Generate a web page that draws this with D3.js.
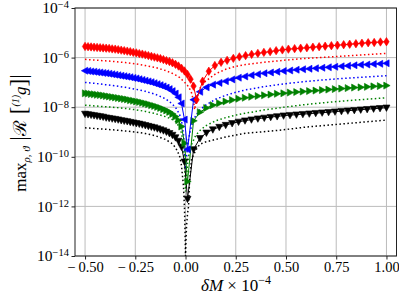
<!DOCTYPE html>
<html><head><meta charset="utf-8">
<script src="https://cdn.jsdelivr.net/npm/d3@7"></script>
<style>body{margin:0;background:#fff}svg{display:block}text{font-family:"Liberation Serif","DejaVu Serif",serif;fill:#000}</style>
</head><body><svg id="c" width="399" height="294"></svg>
<script>
// ---- data (log10 of max |R[(1)g]|) ----
const xTicks = [-0.5, -0.25, 0, 0.25, 0.5, 0.75, 1.0];
const yTickExps = [-14, -12, -10, -8, -6, -4];

const redX = [-0.5,-0.485,-0.47,-0.455,-0.44,-0.425,-0.41,-0.395,-0.38,-0.365,-0.35,-0.335,-0.32,-0.305,-0.29,-0.275,-0.26,-0.245,-0.23,-0.215,-0.2,-0.185,-0.17,-0.155,-0.14,-0.125,-0.11,-0.095,-0.08,-0.065,-0.05,-0.035,-0.02,-0.005,0.01,0.025,0.04,0.055,
 0.085,0.116,0.146,0.177,0.207,0.238,0.268,0.299,0.329,0.36,0.39,0.421,0.451,0.482,0.512,0.543,0.573,0.604,0.634,0.665,0.695,0.726,0.756,0.787,0.817,0.848,0.878,0.909,0.939,0.97,1.0];
const redLog = [-5.55,-5.56,-5.57,-5.58,-5.59,-5.60,-5.61,-5.62,-5.63,-5.65,-5.66,-5.68,-5.70,-5.72,-5.74,-5.76,-5.79,-5.81,-5.84,-5.86,-5.89,-5.92,-5.95,-5.98,-6.01,-6.04,-6.08,-6.12,-6.16,-6.21,-6.27,-6.34,-6.43,-6.54,-6.68,-6.87,-7.15,-7.70,
 -6.95,-6.55,-6.32,-6.19,-6.11,-6.03,-5.97,-5.92,-5.87,-5.83,-5.79,-5.76,-5.72,-5.69,-5.66,-5.64,-5.62,-5.60,-5.58,-5.56,-5.54,-5.52,-5.50,-5.48,-5.46,-5.44,-5.42,-5.40,-5.39,-5.37,-5.36];

const markX = [-0.5,-0.485,-0.47,-0.455,-0.44,-0.425,-0.41,-0.395,-0.38,-0.365,-0.35,-0.335,-0.32,-0.305,-0.29,-0.275,-0.26,-0.245,-0.23,-0.215,-0.2,-0.185,-0.17,-0.155,-0.14,-0.125,-0.11,-0.095,-0.08,-0.065,-0.05,-0.035,-0.02,-0.005,0.01,
 0.04,0.072,0.104,0.136,0.168,0.2,0.232,0.264,0.296,0.328,0.36,0.392,0.424,0.456,0.488,0.52,0.552,0.584,0.616,0.648,0.68,0.712,0.744,0.776,0.808,0.84,0.872,0.904,0.936,0.968,1.0];
const blueLog = [-6.53,-6.54,-6.56,-6.57,-6.59,-6.60,-6.62,-6.63,-6.65,-6.67,-6.69,-6.71,-6.73,-6.75,-6.77,-6.79,-6.82,-6.84,-6.87,-6.90,-6.93,-6.96,-6.99,-7.03,-7.07,-7.11,-7.16,-7.21,-7.27,-7.35,-7.45,-7.60,-7.85,-8.50,-9.70,
 -7.70,-7.38,-7.20,-7.09,-7.02,-6.95,-6.88,-6.81,-6.76,-6.71,-6.67,-6.63,-6.60,-6.57,-6.54,-6.52,-6.49,-6.47,-6.45,-6.43,-6.41,-6.39,-6.37,-6.35,-6.33,-6.31,-6.29,-6.28,-6.26,-6.25,-6.23];
const greenLog = [-7.44,-7.45,-7.47,-7.48,-7.50,-7.51,-7.53,-7.55,-7.57,-7.59,-7.61,-7.63,-7.65,-7.67,-7.69,-7.72,-7.74,-7.77,-7.79,-7.82,-7.85,-7.88,-7.92,-7.95,-7.99,-8.03,-8.08,-8.13,-8.19,-8.27,-8.38,-8.53,-8.78,-9.45,-11.0,
 -8.55,-8.20,-8.03,-7.92,-7.84,-7.77,-7.71,-7.66,-7.62,-7.58,-7.55,-7.52,-7.49,-7.46,-7.44,-7.41,-7.39,-7.37,-7.35,-7.33,-7.31,-7.29,-7.27,-7.25,-7.23,-7.21,-7.20,-7.18,-7.16,-7.15,-7.13];
const blackLog = [-8.27,-8.29,-8.31,-8.33,-8.35,-8.37,-8.39,-8.42,-8.44,-8.46,-8.48,-8.50,-8.53,-8.55,-8.57,-8.60,-8.62,-8.65,-8.67,-8.70,-8.73,-8.76,-8.79,-8.82,-8.86,-8.90,-8.94,-8.99,-9.05,-9.12,-9.22,-9.36,-9.60,-10.20,-11.70,
 -9.70,-9.25,-9.03,-8.90,-8.80,-8.72,-8.65,-8.59,-8.54,-8.50,-8.46,-8.43,-8.40,-8.37,-8.34,-8.32,-8.30,-8.28,-8.26,-8.24,-8.22,-8.20,-8.18,-8.16,-8.14,-8.12,-8.10,-8.08,-8.06,-8.04,-8.02];

const dotX = [-0.5,-0.45,-0.4,-0.35,-0.3,-0.25,-0.2,-0.15,-0.1,-0.07,-0.05,-0.03,-0.02,-0.01,-0.005,0,0.005,0.01,0.015,0.02,0.03,0.05,0.07,0.1,0.15,0.2,0.25,0.3,0.4,0.5,0.6,0.7,0.8,0.9,1.0];
const blueDot = [-7.00,-7.04,-7.09,-7.14,-7.20,-7.27,-7.36,-7.48,-7.66,-7.84,-8.00,-8.28,-8.55,-9.10,-9.70,-10.50,-10.00,-9.60,-9.30,-9.10,-8.75,-8.35,-8.12,-7.92,-7.68,-7.52,-7.40,-7.30,-7.16,-7.05,-6.96,-6.89,-6.83,-6.78,-6.73];
const greenDot = [-7.92,-7.95,-7.98,-8.01,-8.05,-8.10,-8.17,-8.26,-8.38,-8.48,-8.58,-8.80,-9.05,-9.60,-10.30,-11.40,-10.80,-10.30,-10.00,-9.80,-9.50,-9.15,-8.95,-8.75,-8.55,-8.42,-8.32,-8.24,-8.10,-7.99,-7.89,-7.81,-7.74,-7.68,-7.62];
const blackDot = [-8.83,-8.86,-8.89,-8.92,-8.96,-9.00,-9.06,-9.15,-9.30,-9.45,-9.62,-9.95,-10.35,-11.20,-12.10,-14.00,-12.80,-12.30,-12.00,-11.00,-10.10,-9.75,-9.50,-9.40,-9.30,-9.20,-9.12,-9.05,-8.98,-8.90,-8.80,-8.73,-8.66,-8.59,-8.52];

const redDotX = [-0.5,-0.45,-0.4,-0.35,-0.3,-0.25,-0.2,-0.15,-0.1,-0.07,-0.05,-0.03,-0.01,0.01,0.02,0.03,0.04,0.045,0.05,0.06,0.07,0.08,0.1,0.15,0.2,0.25,0.3,0.4,0.5,0.6,0.7,0.8,0.9,1.0];
const redDot = [-6.07,-6.10,-6.13,-6.16,-6.20,-6.25,-6.32,-6.40,-6.52,-6.62,-6.70,-6.80,-6.95,-7.12,-7.25,-7.42,-7.75,-8.10,-7.90,-7.55,-7.25,-7.15,-6.95,-6.65,-6.47,-6.35,-6.28,-6.18,-6.10,-6.03,-5.98,-5.93,-5.88,-5.83];

// ---- layout ----
const L = 75, R = 396.5, T = 8, B = 256;
const svg = d3.select('#c');
const x = d3.scaleLinear().domain([-0.55, 1.05]).range([L, R]);
const y = d3.scaleLog().domain([1e-14, 1e-4]).range([B, T]);

svg.append('defs').append('clipPath').attr('id','clip')
  .append('rect').attr('x',L).attr('y',T).attr('width',R-L).attr('height',B-T);

// grid
const grid = svg.append('g').attr('stroke','#bcbcbc').attr('stroke-width',1);
xTicks.forEach(t => grid.append('line').attr('x1',x(t)).attr('x2',x(t)).attr('y1',T).attr('y2',B));
yTickExps.forEach(e => grid.append('line').attr('x1',L).attr('x2',R).attr('y1',y(Math.pow(10,e))).attr('y2',y(Math.pow(10,e))));

// series
const plot = svg.append('g').attr('clip-path','url(#clip)');
const line = d3.line().x(d => x(d[0])).y(d => y(Math.pow(10, d[1])));

const shapes = {
  diamond: 'M0,-4.2L2.7,0L0,4.2L-2.7,0Z',
  left: 'M-3.7,0L2.7,-3.5L2.7,3.5Z',
  right: 'M3.7,0L-2.7,-3.5L-2.7,3.5Z',
  down: 'M-3.5,-2.7L3.5,-2.7L0,3.7Z'
};

const series = [
  {color:'#000000', mx: markX, my: blackLog, shape:'down', dx: dotX, dy: blackDot},
  {color:'#008000', mx: markX, my: greenLog, shape:'right', dx: dotX, dy: greenDot},
  {color:'#0000ff', mx: markX, my: blueLog, shape:'left', dx: dotX, dy: blueDot},
  {color:'#ff0000', mx: redX, my: redLog, shape:'diamond', dx: redDotX, dy: redDot}
];

series.forEach(s => {
  plot.append('path')
    .datum(s.dx.map((v,i) => [v, s.dy[i]]))
    .attr('d', line).attr('fill','none').attr('stroke', s.color)
    .attr('stroke-width',1.5).attr('stroke-dasharray','1.5,2.5');
});
series.forEach(s => {
  const pts = s.mx.map((v,i) => [v, s.my[i]]);
  plot.append('path').datum(pts).attr('d', line).attr('fill','none')
    .attr('stroke', s.color).attr('stroke-width',1);
  plot.append('g').selectAll('path')
    .data(pts)
    .join('path')
    .attr('transform', d => `translate(${x(d[0])},${y(Math.pow(10,d[1]))})`)
    .attr('d', shapes[s.shape])
    .attr('fill', s.color).attr('stroke', s.color).attr('stroke-width',0.6);
});

// frame
svg.append('rect').attr('x',L).attr('y',T).attr('width',R-L).attr('height',B-T)
  .attr('fill','none').attr('stroke','#222').attr('stroke-width',1);

// x axis
const fmt = d3.format('.2f');
const xa = svg.append('g').attr('transform',`translate(0,${B})`)
  .call(d3.axisBottom(x).tickValues(xTicks)
    .tickFormat(d => d < 0 ? '\u2212\u2009' + fmt(-d) : fmt(d))
    .tickSize(3.5).tickPadding(2.5));
xa.select('.domain').remove();
xa.selectAll('line').attr('stroke','#222');
xa.selectAll('text').attr('font-size',14.5).attr('font-family','"Liberation Serif",serif').attr('fill','#000');

// y axis
const ya = svg.append('g').attr('transform',`translate(${L},0)`)
  .call(d3.axisLeft(y).tickValues(yTickExps.map(e => Math.pow(10,e))).tickFormat('').tickSize(3.5));
ya.select('.domain').remove();
ya.selectAll('line').attr('stroke','#222');
yTickExps.forEach(e => {
  const t = svg.append('text').attr('x', 69).attr('y', y(Math.pow(10,e)) + 5.2)
    .attr('text-anchor','end').attr('font-size',15.5);
  t.append('tspan').text('10');
  t.append('tspan').attr('font-size',10.5).attr('dy',-4.8).text('\u2212' + Math.abs(e));
});

// x label
const xl = svg.append('text').attr('x', 236).attr('y', 290.5).attr('text-anchor','middle').attr('font-size',17);
xl.append('tspan').attr('font-style','italic').text('\u03B4M');
xl.append('tspan').text(' \u00D7 10');
xl.append('tspan').attr('font-size',12).attr('dy',-7).text('\u22124');

// y label
const yl = svg.append('text').attr('transform','translate(26,133) rotate(-90)')
  .attr('text-anchor','middle').attr('font-size',17);
yl.append('tspan').text('max');
yl.append('tspan').attr('font-size',11).attr('font-style','italic').attr('dy',4).text('\u03C1, \u03D1');
yl.append('tspan').attr('dy',-4).attr('font-size',23).text(' |');
yl.append('tspan').attr('font-size',18).text('\u211B');
yl.append('tspan').attr('font-size',23).text(' [');
yl.append('tspan').attr('font-size',10).attr('font-style','italic').attr('dy',-7).text('(1)');
yl.append('tspan').attr('font-style','italic').attr('dy',7).text('g');
yl.append('tspan').attr('font-size',23).text(']');
yl.append('tspan').attr('font-size',23).text('|');
</script>
</body></html>
